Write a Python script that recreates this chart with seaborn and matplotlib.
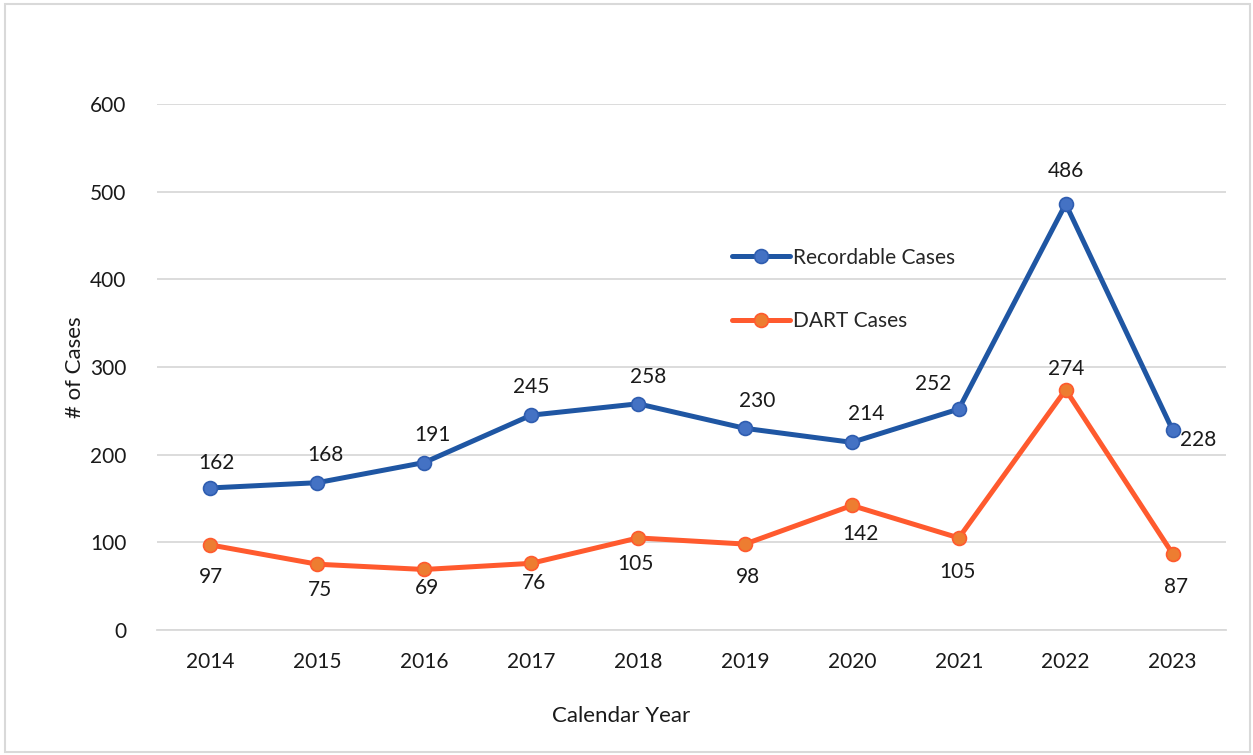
import matplotlib
matplotlib.use("Agg")
import matplotlib.pyplot as plt
from matplotlib.patches import Rectangle
import seaborn as sns
import pandas as pd

years = [2014, 2015, 2016, 2017, 2018, 2019, 2020, 2021, 2022, 2023]
recordable = [162, 168, 191, 245, 258, 230, 214, 252, 486, 228]
dart = [97, 75, 69, 76, 105, 98, 142, 105, 274, 87]

# label offsets in pixels (dx, dy) for each point
rec_offsets = [(6, 25), (8, 28), (8, 28), (0, 28), (10, 27), (12, 27), (14, 28), (-26, 25), (0, 33), (26, -10)]
dart_offsets = [(1, -32), (3, -26), (3, -19), (3, -20), (-3, -26), (3, -33), (9, -29), (-1, -34), (0, 21), (3, -33)]

sns.set_theme(style="white")
plt.rcParams['font.family'] = ['Lato', 'DejaVu Sans']

fig = plt.figure(figsize=(12.53, 7.55), dpi=100)
ax = fig.add_axes([0.1253, 0.1656, 0.8532, 0.6967])

df = pd.DataFrame({"year": years, "Recordable Cases": recordable, "DART Cases": dart})

sns.lineplot(data=df, x="year", y="Recordable Cases", ax=ax, color="#1F56A3",
             linewidth=3.6, marker="o", markersize=10, markerfacecolor="#4472C4",
             markeredgecolor="#2F5DB0", markeredgewidth=1.2, label="Recordable Cases")
sns.lineplot(data=df, x="year", y="DART Cases", ax=ax, color="#FF5A2E",
             linewidth=3.6, marker="o", markersize=10, markerfacecolor="#ED7D31",
             markeredgecolor="#FF5A2E", markeredgewidth=1.2, label="DART Cases")

for series, offs in ((recordable, rec_offsets), (dart, dart_offsets)):
    for x, y, (dx, dy) in zip(years, series, offs):
        ax.annotate(str(y), (x, y), xytext=(dx, dy), textcoords="offset pixels",
                    ha="center", va="center", fontsize=15, color="#1a1a1a")

ax.set_xlim(2013.5, 2023.5)
ax.set_ylim(0, 600)
ax.set_xticks(years)
ax.set_xticklabels([str(y) for y in years])
ax.set_yticks(range(0, 601, 100))
ax.tick_params(axis="both", labelsize=15, length=0, colors="#1a1a1a")
ax.tick_params(axis="y", pad=22)
ax.tick_params(axis="x", pad=16)
ax.yaxis.grid(True, color="#D9D9D9", linewidth=1.3)
ax.set_axisbelow(True)
for s in ("top", "right", "left"):
    ax.spines[s].set_visible(False)
ax.spines["bottom"].set_color("#D9D9D9")
ax.spines["bottom"].set_linewidth(1.3)

ax.set_xlabel("Calendar Year", fontsize=16, color="#1a1a1a", va="center")
ax.set_ylabel("# of Cases", fontsize=16, color="#1a1a1a", va="center")
ax.xaxis.set_label_coords(0.434, -0.1635)
ax.yaxis.set_label_coords(-0.0767, 0.5)

ax.legend(loc="upper left", bbox_to_anchor=(0.538, 0.727), frameon=False,
          fontsize=15, handlelength=2.8, handletextpad=0.1, labelspacing=2.1,
          borderpad=0, borderaxespad=0)

fig.patches.append(Rectangle((5 / 1253, 3 / 755), 1245 / 1253, 748 / 755,
                             transform=fig.transFigure, fill=False,
                             edgecolor="#D9D9D9", linewidth=1.5))

fig.savefig("out.png", dpi=100)
